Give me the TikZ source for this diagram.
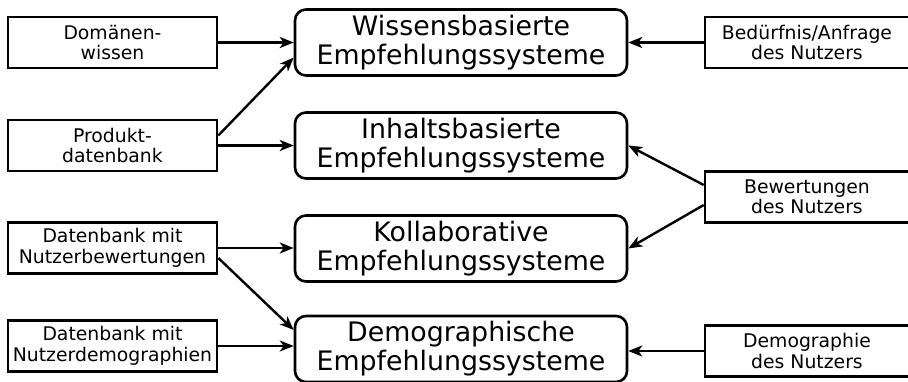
\documentclass[tikz,border=0pt]{standalone}
\usepackage{fontspec}
\setmainfont{DejaVu Sans}
\usetikzlibrary{arrows.meta,calc}
\begin{document}
\begin{tikzpicture}[x=1pt,y=-1pt,
  src/.style={draw,line width=2.6pt,minimum width=209pt,minimum height=51pt,inner sep=0pt,align=center,
    font=\fontsize{18.8}{20.5}\selectfont},
  rsrc/.style={src,minimum width=204pt},
  sys/.style={draw,line width=2.6pt,rounded corners=11pt,minimum width=332pt,minimum height=66pt,inner sep=0pt,align=center,
    font=\fontsize{26.8}{29}\selectfont},
  arr/.style={line width=2.4pt,-{Stealth[length=14pt,width=11pt,inset=4pt]}}]
\useasboundingbox (0,0) rectangle (908,382);
% left sources
\node[src] (dom) at (112.5,42.5) {Domänen-\\wissen};
\node[src] (prod) at (112.5,145.5) {Produkt-\\datenbank};
\node[src] (nb) at (112.5,248) {Datenbank mit\\Nutzerbewertungen};
\node[src] (nd) at (112.5,346) {Datenbank mit\\Nutzerdemographien};
% systems
\node[sys] (wiss) at (461,42.5) {Wissensbasierte\\Empfehlungssysteme};
\node[sys] (inh) at (461,145.5) {Inhaltsbasierte\\Empfehlungssysteme};
\node[sys] (kol) at (461,248.5) {Kollaborative\\Empfehlungssysteme};
\node[sys] (dem) at (461,349) {Demographische\\Empfehlungssysteme};
% right sources
\node[rsrc] (bed) at (807,42.5) {Bedürfnis/Anfrage\\des Nutzers};
\node[rsrc] (bew) at (807,197) {Bewertungen\\des Nutzers};
\node[rsrc] (demo) at (807,351) {Demographie\\des Nutzers};
% arrows
\draw[arr] (dom.east) -- (wiss.west);
\draw[arr] ([yshift=10pt]prod.east) -- ([yshift=-15pt]wiss.west);
\draw[arr] (prod.east) -- (inh.west);
\draw[arr] (nb.east) -- (nb.east -| kol.west);
\draw[arr] ([yshift=-10pt]nb.east) -- ([yshift=19pt]dem.west);
\draw[arr] (nd.east) -- (nd.east -| dem.west);
\draw[arr] (bed.west) -- (wiss.east);
\draw[arr] ([yshift=12pt]bew.west) -- (inh.east);
\draw[arr] ([yshift=-8pt]bew.west) -- (kol.east);
\draw[arr] (demo.west) -- (demo.west -| dem.east);
\end{tikzpicture}
\end{document}
